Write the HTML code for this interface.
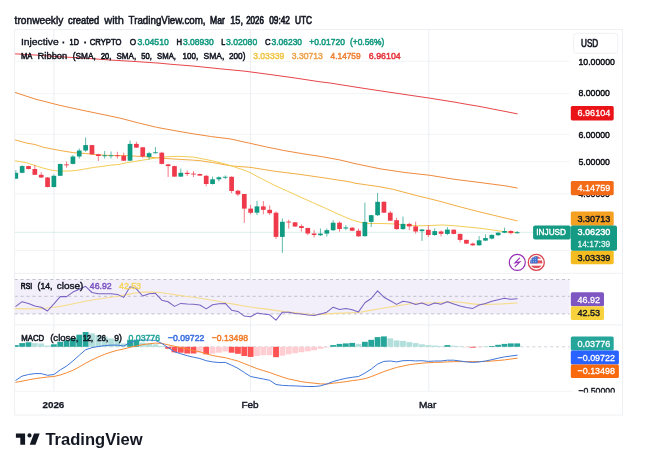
<!DOCTYPE html>
<html lang="en"><head><meta charset="utf-8"><title>INJUSD chart</title>
<style>html,body{margin:0;padding:0;background:#fff;overflow:hidden}svg{display:block}text{font-family:'Liberation Sans', sans-serif;}</style></head><body>
<svg width="656" height="459" viewBox="0 0 656 459">
<rect x="0" y="0" width="656" height="459" fill="#ffffff"/>
<g stroke="#f2f4f7" stroke-width="1">
<line x1="14.6" y1="61.3" x2="569.6" y2="61.3"/>
<line x1="14.6" y1="93.6" x2="569.6" y2="93.6"/>
<line x1="14.6" y1="134.3" x2="569.6" y2="134.3"/>
<line x1="14.6" y1="161.7" x2="569.6" y2="161.7"/>
<line x1="14.6" y1="193.8" x2="569.6" y2="193.8"/>
<line x1="14.6" y1="250.5" x2="569.6" y2="250.5"/>
<line x1="53.9" y1="29.5" x2="53.9" y2="391.3" stroke="#eceef2"/>
<line x1="250.6" y1="29.5" x2="250.6" y2="391.3" stroke="#eceef2"/>
<line x1="428.8" y1="29.5" x2="428.8" y2="391.3" stroke="#eceef2"/>
<line x1="14.6" y1="305.6" x2="569.6" y2="305.6"/>
</g>
<rect x="14.6" y="279.5" width="555.0" height="34.4" fill="#f2effa"/>
<g stroke="#bfc1cc" stroke-width="1" stroke-dasharray="3.1,2.85">
<line x1="14.6" y1="279.5" x2="569.6" y2="279.5"/>
<line x1="14.6" y1="296.3" x2="569.6" y2="296.3"/>
<line x1="14.6" y1="313.9" x2="569.6" y2="313.9"/>
</g>
<polyline points="14.2,308.6 26.8,308.9 40.2,308.6 46.9,308.0 53.6,307.2 60.3,306.4 68.7,304.7 77.0,303.0 85.5,301.3 93.8,299.7 102.2,298.5 110.6,297.2 118.4,296.3 126.8,294.6 135.2,293.0 143.5,292.1 152.0,292.1 160.3,292.5 168.7,293.8 177.0,295.1 185.5,296.3 193.8,297.2 202.2,298.5 210.6,300.0 218.4,301.3 226.8,303.0 235.2,304.4 243.5,306.0 252.0,307.2 260.3,308.4 268.7,309.4 277.0,310.6 285.5,311.7 293.8,312.6 302.2,313.6 310.6,314.5 318.4,314.8 326.8,313.9 335.2,313.4 343.5,313.1 352.0,312.7 360.3,312.2 368.7,310.6 377.0,309.2 385.5,307.7 393.8,306.4 402.2,305.0 410.6,303.8 418.4,303.3 426.8,303.0 435.2,302.7 443.5,302.2 452.0,301.7 460.3,302.2 468.7,303.4 477.0,304.4 485.5,304.4 493.8,304.2 502.2,303.9 510.6,303.4 517.2,303.0" fill="none" stroke="#f6dc8c" stroke-width="1.1" stroke-linejoin="round" stroke-linecap="round" />
<polyline points="15.8,306.4 22.1,301.7 28.5,303.4 34.8,306.0 41.2,307.2 47.5,311.0 53.9,303.9 60.2,296.6 66.6,296.6 72.9,292.1 79.3,289.3 85.6,286.3 92.0,292.5 98.3,293.8 104.7,293.8 111.0,293.8 117.4,294.4 123.7,297.4 130.0,286.8 136.4,288.8 142.7,296.0 149.1,293.8 155.4,293.3 161.8,300.2 168.1,301.8 174.5,306.4 180.8,303.4 187.2,303.9 193.5,304.2 199.9,305.0 206.2,308.9 212.6,304.8 218.9,303.7 225.3,303.4 231.6,310.2 237.9,311.4 244.3,316.1 250.6,316.8 257.0,313.1 263.3,313.9 269.7,314.8 276.0,320.1 282.4,312.2 288.7,312.2 295.1,313.4 301.4,313.9 307.8,315.1 314.1,315.6 320.5,313.9 326.8,312.2 333.2,307.2 339.5,309.4 345.8,308.6 352.2,309.7 358.5,311.9 364.9,302.7 371.2,298.5 377.6,290.9 383.9,297.2 390.3,300.8 396.6,304.4 403.0,301.3 409.3,302.2 415.7,304.4 422.0,303.0 428.4,305.5 434.7,303.0 441.0,304.2 447.4,301.7 453.7,303.9 460.1,306.0 466.4,307.5 472.8,308.4 479.1,305.0 485.5,303.4 491.8,301.3 498.2,299.7 504.5,298.3 510.9,299.3 517.2,298.8" fill="none" stroke="#7a63c2" stroke-width="1.05" stroke-linejoin="round" stroke-linecap="round" />
<line x1="14.6" y1="346.8" x2="569.6" y2="346.8" stroke="#d0d3da" stroke-width="1" stroke-dasharray="3.1,2.85"/>
<rect x="14.60" y="345.1" width="4.10" height="1.7" fill="#26a69a"/>
<rect x="19.25" y="343.1" width="5.80" height="3.7" fill="#26a69a"/>
<rect x="25.59" y="342.3" width="5.80" height="4.5" fill="#26a69a"/>
<rect x="31.94" y="343.1" width="5.80" height="3.7" fill="#b2dfdb"/>
<rect x="38.29" y="343.4" width="5.80" height="3.4" fill="#b2dfdb"/>
<rect x="44.64" y="345.5" width="5.80" height="1.3" fill="#b2dfdb"/>
<rect x="50.98" y="344.3" width="5.80" height="2.5" fill="#26a69a"/>
<rect x="57.33" y="341.8" width="5.80" height="5.0" fill="#26a69a"/>
<rect x="63.68" y="340.4" width="5.80" height="6.4" fill="#26a69a"/>
<rect x="70.02" y="338.1" width="5.80" height="8.7" fill="#26a69a"/>
<rect x="76.37" y="334.7" width="5.80" height="12.1" fill="#26a69a"/>
<rect x="82.72" y="332.0" width="5.80" height="14.8" fill="#26a69a"/>
<rect x="89.06" y="333.4" width="5.80" height="13.4" fill="#b2dfdb"/>
<rect x="95.41" y="335.0" width="5.80" height="11.8" fill="#b2dfdb"/>
<rect x="101.76" y="336.7" width="5.80" height="10.1" fill="#b2dfdb"/>
<rect x="108.11" y="338.4" width="5.80" height="8.4" fill="#b2dfdb"/>
<rect x="114.45" y="340.0" width="5.80" height="6.8" fill="#b2dfdb"/>
<rect x="120.80" y="343.5" width="5.80" height="3.3" fill="#b2dfdb"/>
<rect x="127.15" y="339.8" width="5.80" height="7.0" fill="#26a69a"/>
<rect x="133.49" y="339.8" width="5.80" height="7.0" fill="#26a69a"/>
<rect x="139.84" y="342.6" width="5.80" height="4.2" fill="#b2dfdb"/>
<rect x="146.19" y="343.4" width="5.80" height="3.4" fill="#b2dfdb"/>
<rect x="152.53" y="344.3" width="5.80" height="2.5" fill="#b2dfdb"/>
<rect x="158.88" y="345.9" width="5.80" height="0.9" fill="#b2dfdb"/>
<rect x="165.23" y="346.8" width="5.80" height="2.0" fill="#ff5252"/>
<rect x="171.58" y="346.8" width="5.80" height="5.5" fill="#ff5252"/>
<rect x="177.92" y="346.8" width="5.80" height="5.9" fill="#ff5252"/>
<rect x="184.27" y="346.8" width="5.80" height="6.7" fill="#ff5252"/>
<rect x="190.62" y="346.8" width="5.80" height="6.7" fill="#ff5252"/>
<rect x="196.96" y="346.8" width="5.80" height="5.9" fill="#ffcdd2"/>
<rect x="203.31" y="346.8" width="5.80" height="7.5" fill="#ff5252"/>
<rect x="209.66" y="346.8" width="5.80" height="6.8" fill="#ffcdd2"/>
<rect x="216.00" y="346.8" width="5.80" height="5.9" fill="#ffcdd2"/>
<rect x="222.35" y="346.8" width="5.80" height="4.7" fill="#ffcdd2"/>
<rect x="228.70" y="346.8" width="5.80" height="5.9" fill="#ff5252"/>
<rect x="235.05" y="346.8" width="5.80" height="7.0" fill="#ff5252"/>
<rect x="241.39" y="346.8" width="5.80" height="9.2" fill="#ff5252"/>
<rect x="247.74" y="346.8" width="5.80" height="10.1" fill="#ff5252"/>
<rect x="254.09" y="346.8" width="5.80" height="9.2" fill="#ffcdd2"/>
<rect x="260.43" y="346.8" width="5.80" height="8.4" fill="#ffcdd2"/>
<rect x="266.78" y="346.8" width="5.80" height="8.4" fill="#ffcdd2"/>
<rect x="273.13" y="346.8" width="5.80" height="10.4" fill="#ff5252"/>
<rect x="279.47" y="346.8" width="5.80" height="8.9" fill="#ffcdd2"/>
<rect x="285.82" y="346.8" width="5.80" height="7.5" fill="#ffcdd2"/>
<rect x="292.17" y="346.8" width="5.80" height="6.4" fill="#ffcdd2"/>
<rect x="298.52" y="346.8" width="5.80" height="5.4" fill="#ffcdd2"/>
<rect x="304.86" y="346.8" width="5.80" height="4.5" fill="#ffcdd2"/>
<rect x="311.21" y="346.8" width="5.80" height="3.5" fill="#ffcdd2"/>
<rect x="317.56" y="346.8" width="5.80" height="2.0" fill="#ffcdd2"/>
<rect x="323.90" y="346.8" width="5.80" height="0.6" fill="#ffcdd2"/>
<rect x="330.25" y="345.1" width="5.80" height="1.7" fill="#26a69a"/>
<rect x="336.60" y="343.9" width="5.80" height="2.9" fill="#26a69a"/>
<rect x="342.94" y="343.4" width="5.80" height="3.4" fill="#26a69a"/>
<rect x="349.29" y="342.9" width="5.80" height="3.9" fill="#26a69a"/>
<rect x="355.64" y="343.8" width="5.80" height="3.0" fill="#b2dfdb"/>
<rect x="361.99" y="341.8" width="5.80" height="5.0" fill="#26a69a"/>
<rect x="368.33" y="339.8" width="5.80" height="7.0" fill="#26a69a"/>
<rect x="374.68" y="337.1" width="5.80" height="9.7" fill="#26a69a"/>
<rect x="381.03" y="336.4" width="5.80" height="10.4" fill="#26a69a"/>
<rect x="387.37" y="338.4" width="5.80" height="8.4" fill="#b2dfdb"/>
<rect x="393.72" y="340.4" width="5.80" height="6.4" fill="#b2dfdb"/>
<rect x="400.07" y="340.9" width="5.80" height="5.9" fill="#b2dfdb"/>
<rect x="406.41" y="342.1" width="5.80" height="4.7" fill="#b2dfdb"/>
<rect x="412.76" y="343.1" width="5.80" height="3.7" fill="#b2dfdb"/>
<rect x="419.11" y="344.3" width="5.80" height="2.5" fill="#b2dfdb"/>
<rect x="425.46" y="345.1" width="5.80" height="1.7" fill="#b2dfdb"/>
<rect x="431.80" y="345.5" width="5.80" height="1.3" fill="#b2dfdb"/>
<rect x="438.15" y="346.1" width="5.80" height="0.7" fill="#b2dfdb"/>
<rect x="444.50" y="345.1" width="5.80" height="1.7" fill="#26a69a"/>
<rect x="450.84" y="345.7" width="5.80" height="1.1" fill="#b2dfdb"/>
<rect x="457.19" y="346.3" width="5.80" height="0.6" fill="#b2dfdb"/>
<rect x="463.54" y="346.8" width="5.80" height="0.6" fill="#ffcdd2"/>
<rect x="469.88" y="346.8" width="5.80" height="0.9" fill="#ff5252"/>
<rect x="476.23" y="346.8" width="5.80" height="0.6" fill="#ffcdd2"/>
<rect x="482.58" y="346.4" width="5.80" height="0.6" fill="#b2dfdb"/>
<rect x="488.93" y="346.0" width="5.80" height="0.8" fill="#26a69a"/>
<rect x="495.27" y="344.8" width="5.80" height="2.0" fill="#26a69a"/>
<rect x="501.62" y="343.9" width="5.80" height="2.9" fill="#26a69a"/>
<rect x="507.97" y="343.4" width="5.80" height="3.4" fill="#26a69a"/>
<rect x="514.31" y="343.4" width="5.80" height="3.4" fill="#26a69a"/>
<polyline points="15.8,382.3 22.1,381.2 28.5,379.8 34.8,378.7 41.2,377.8 47.5,377.0 53.9,376.5 60.2,375.0 66.6,372.8 72.9,370.3 79.3,366.9 85.6,363.2 92.0,359.9 98.3,356.9 104.7,354.3 111.0,352.1 117.4,350.3 123.7,349.0 130.0,347.3 136.4,346.0 142.7,344.6 149.1,343.8 155.4,343.1 161.8,343.4 168.1,344.8 174.5,346.3 180.8,347.6 187.2,349.0 193.5,350.5 199.9,351.8 206.2,353.8 212.6,355.5 218.9,356.7 225.3,357.7 231.6,359.4 237.9,361.0 244.3,363.6 250.6,366.1 257.0,368.6 263.3,370.6 269.7,372.5 276.0,374.8 282.4,377.0 288.7,379.0 295.1,380.3 301.4,381.7 307.8,382.5 314.1,383.2 320.5,383.9 326.8,384.0 333.2,383.2 339.5,382.5 345.8,381.7 352.2,380.7 358.5,379.8 364.9,378.7 371.2,376.6 377.6,374.1 383.9,371.6 390.3,369.4 396.6,367.4 403.0,366.1 409.3,364.7 415.7,363.9 422.0,363.2 428.4,362.7 434.7,362.4 441.0,362.2 447.4,361.9 453.7,361.6 460.1,361.6 466.4,361.6 472.8,361.6 479.1,361.6 485.5,361.4 491.8,361.0 498.2,360.5 504.5,359.9 510.9,359.0 517.2,358.2" fill="none" stroke="#f58a34" stroke-width="1.0" stroke-linejoin="round" stroke-linecap="round" />
<polyline points="15.8,380.3 22.1,376.1 28.5,374.5 34.8,373.6 41.2,373.6 47.5,375.3 53.9,374.5 60.2,369.9 66.6,366.1 72.9,361.0 79.3,355.2 85.6,349.8 92.0,347.6 98.3,346.5 104.7,345.6 111.0,345.1 117.4,345.1 123.7,346.0 130.0,342.6 136.4,340.4 142.7,340.1 149.1,340.1 155.4,340.4 161.8,343.4 168.1,347.6 174.5,351.8 180.8,353.8 187.2,355.7 193.5,357.2 199.9,358.5 206.2,360.7 212.6,361.9 218.9,362.5 225.3,362.4 231.6,365.2 237.9,368.3 244.3,372.5 250.6,376.5 257.0,377.8 263.3,379.0 269.7,380.3 276.0,384.5 282.4,385.4 288.7,385.7 295.1,385.9 301.4,386.2 307.8,386.5 314.1,386.5 320.5,385.9 326.8,384.0 333.2,381.5 339.5,379.8 345.8,378.3 352.2,377.3 358.5,376.5 364.9,373.1 371.2,369.1 377.6,364.1 383.9,361.4 390.3,361.0 396.6,361.9 403.0,360.7 409.3,360.5 415.7,360.9 422.0,360.7 428.4,361.4 434.7,361.0 441.0,361.0 447.4,360.2 453.7,360.2 460.1,361.0 466.4,361.9 472.8,362.4 479.1,361.9 485.5,361.0 491.8,359.7 498.2,358.2 504.5,356.9 510.9,356.0 517.2,355.2" fill="none" stroke="#3f77d9" stroke-width="1.0" stroke-linejoin="round" stroke-linecap="round" />
<line x1="14.6" y1="232.3" x2="569.6" y2="232.3" stroke="#a3d8cd" stroke-width="0.8" stroke-dasharray="1,1"/>
<polyline points="14.6,53.8 35.0,55.0 60.0,56.8 85.0,58.2 110.0,60.0 135.0,61.5 160.0,63.2 170.0,64.2 195.0,66.2 220.0,68.8 245.0,71.2 270.0,74.5 295.0,78.0 320.0,81.8 330.0,83.0 355.0,87.0 380.0,90.8 405.0,94.5 430.0,98.2 440.0,99.8 455.0,102.2 465.0,104.0 480.0,106.5 490.0,108.5 517.2,113.8" fill="none" stroke="#e8454a" stroke-width="1.0" stroke-linejoin="round" stroke-linecap="round" />
<polyline points="14.6,92.3 35.0,99.0 60.0,105.4 85.0,110.8 110.0,116.0 120.0,118.1 138.3,122.9 156.6,127.3 174.9,130.7 193.2,133.8 211.5,136.6 230.0,138.9 248.3,142.9 266.6,147.0 284.9,150.7 303.2,153.8 321.5,156.6 339.7,159.9 350.0,162.4 355.0,163.6 380.0,168.8 405.0,172.5 430.0,175.3 455.0,179.4 480.0,182.5 505.0,185.8 517.2,188.0" fill="none" stroke="#f08a3e" stroke-width="1.0" stroke-linejoin="round" stroke-linecap="round" />
<polyline points="14.6,139.8 26.8,143.1 35.0,144.5 43.5,147.3 60.0,150.5 73.7,152.7 85.5,153.5 97.2,154.8 110.6,155.5 126.8,155.7 143.5,156.6 160.3,158.1 177.0,159.2 193.8,160.2 200.0,160.7 212.5,162.5 225.0,164.8 232.0,166.0 250.0,167.3 275.0,171.3 300.0,174.4 325.0,178.0 350.0,181.9 355.0,183.2 367.5,185.0 380.0,186.8 392.5,189.2 405.0,192.5 417.5,195.8 430.0,198.8 442.5,202.0 455.0,205.5 467.5,208.8 480.0,212.0 492.5,215.0 505.0,218.0 517.2,220.8" fill="none" stroke="#f3ae45" stroke-width="1.0" stroke-linejoin="round" stroke-linecap="round" />
<polyline points="14.6,160.7 26.8,162.8 35.2,165.6 43.5,168.2 52.0,170.3 60.3,171.1 68.7,171.1 77.0,170.3 85.5,168.9 93.8,167.4 102.2,166.4 110.6,165.2 119.0,164.4 126.8,162.7 143.5,160.0 152.0,158.6 160.3,157.3 168.7,156.6 177.0,156.4 185.5,156.6 193.8,157.2 202.2,158.8 212.5,160.8 225.0,164.0 232.0,166.0 237.5,168.0 243.8,170.0 250.0,172.6 262.5,179.2 275.0,185.5 287.5,191.2 300.0,196.9 312.5,202.5 325.0,208.0 337.5,213.8 350.0,219.2 355.0,220.8 362.5,222.8 370.0,223.5 380.0,223.5 392.5,223.8 405.0,225.0 417.5,225.8 430.0,225.5 442.5,225.0 455.0,225.8 467.5,227.0 480.0,228.2 492.5,230.0 505.0,231.8 517.2,232.5" fill="none" stroke="#f3cd58" stroke-width="1.0" stroke-linejoin="round" stroke-linecap="round" />
<g>
<line x1="15.80" y1="170.0" x2="15.80" y2="179.0" stroke="#0f9a82" stroke-width="0.9" stroke-opacity="0.75"/>
<rect x="14.60" y="172.8" width="3.55" height="5.9" fill="#0f9a82"/>
<line x1="22.15" y1="165.2" x2="22.15" y2="173.3" stroke="#0f9a82" stroke-width="0.9" stroke-opacity="0.75"/>
<rect x="19.80" y="166.1" width="4.70" height="6.7" fill="#0f9a82"/>
<line x1="28.49" y1="165.7" x2="28.49" y2="169.4" stroke="#ee3a4b" stroke-width="0.9" stroke-opacity="0.75"/>
<rect x="26.14" y="166.1" width="4.70" height="2.9" fill="#ee3a4b"/>
<line x1="34.84" y1="164.9" x2="34.84" y2="175.0" stroke="#ee3a4b" stroke-width="0.9" stroke-opacity="0.75"/>
<rect x="32.49" y="169.0" width="4.70" height="5.8" fill="#ee3a4b"/>
<line x1="41.19" y1="172.3" x2="41.19" y2="177.8" stroke="#ee3a4b" stroke-width="0.9" stroke-opacity="0.75"/>
<rect x="38.84" y="174.8" width="4.70" height="2.7" fill="#ee3a4b"/>
<line x1="47.54" y1="177.0" x2="47.54" y2="187.4" stroke="#ee3a4b" stroke-width="0.9" stroke-opacity="0.75"/>
<rect x="45.19" y="177.5" width="4.70" height="9.5" fill="#ee3a4b"/>
<line x1="53.88" y1="174.5" x2="53.88" y2="187.4" stroke="#0f9a82" stroke-width="0.9" stroke-opacity="0.75"/>
<rect x="51.53" y="175.8" width="4.70" height="11.2" fill="#0f9a82"/>
<line x1="60.23" y1="163.6" x2="60.23" y2="176.1" stroke="#0f9a82" stroke-width="0.9" stroke-opacity="0.75"/>
<rect x="57.88" y="164.0" width="4.70" height="11.8" fill="#0f9a82"/>
<line x1="66.58" y1="161.5" x2="66.58" y2="167.8" stroke="#ee3a4b" stroke-width="0.9" stroke-opacity="0.75"/>
<rect x="64.23" y="164.4" width="4.70" height="0.9" fill="#ee3a4b"/>
<line x1="72.92" y1="155.2" x2="72.92" y2="164.4" stroke="#0f9a82" stroke-width="0.9" stroke-opacity="0.75"/>
<rect x="70.57" y="156.5" width="4.70" height="7.4" fill="#0f9a82"/>
<line x1="79.27" y1="148.5" x2="79.27" y2="158.5" stroke="#0f9a82" stroke-width="0.9" stroke-opacity="0.75"/>
<rect x="76.92" y="150.5" width="4.70" height="6.0" fill="#0f9a82"/>
<line x1="85.62" y1="137.6" x2="85.62" y2="151.8" stroke="#0f9a82" stroke-width="0.9" stroke-opacity="0.75"/>
<rect x="83.27" y="145.1" width="4.70" height="5.4" fill="#0f9a82"/>
<line x1="91.96" y1="145.1" x2="91.96" y2="154.8" stroke="#ee3a4b" stroke-width="0.9" stroke-opacity="0.75"/>
<rect x="89.61" y="145.1" width="4.70" height="9.2" fill="#ee3a4b"/>
<line x1="98.31" y1="153.8" x2="98.31" y2="161.0" stroke="#ee3a4b" stroke-width="0.9" stroke-opacity="0.75"/>
<rect x="95.96" y="154.3" width="4.70" height="1.7" fill="#ee3a4b"/>
<line x1="104.66" y1="151.0" x2="104.66" y2="158.5" stroke="#0f9a82" stroke-width="0.9" stroke-opacity="0.75"/>
<rect x="102.31" y="155.3" width="4.70" height="0.9" fill="#0f9a82"/>
<line x1="111.01" y1="151.5" x2="111.01" y2="158.5" stroke="#0f9a82" stroke-width="0.9" stroke-opacity="0.75"/>
<rect x="108.66" y="155.3" width="4.70" height="0.9" fill="#0f9a82"/>
<line x1="117.35" y1="151.8" x2="117.35" y2="158.5" stroke="#ee3a4b" stroke-width="0.9" stroke-opacity="0.75"/>
<rect x="115.00" y="155.3" width="4.70" height="0.9" fill="#ee3a4b"/>
<line x1="123.70" y1="152.7" x2="123.70" y2="161.0" stroke="#ee3a4b" stroke-width="0.9" stroke-opacity="0.75"/>
<rect x="121.35" y="155.7" width="4.70" height="5.0" fill="#ee3a4b"/>
<line x1="130.05" y1="140.6" x2="130.05" y2="161.0" stroke="#0f9a82" stroke-width="0.9" stroke-opacity="0.75"/>
<rect x="127.70" y="143.9" width="4.70" height="16.8" fill="#0f9a82"/>
<line x1="136.39" y1="141.8" x2="136.39" y2="148.0" stroke="#ee3a4b" stroke-width="0.9" stroke-opacity="0.75"/>
<rect x="134.04" y="143.9" width="4.70" height="3.7" fill="#ee3a4b"/>
<line x1="142.74" y1="146.8" x2="142.74" y2="157.7" stroke="#ee3a4b" stroke-width="0.9" stroke-opacity="0.75"/>
<rect x="140.39" y="147.3" width="4.70" height="9.2" fill="#ee3a4b"/>
<line x1="149.09" y1="151.8" x2="149.09" y2="159.7" stroke="#0f9a82" stroke-width="0.9" stroke-opacity="0.75"/>
<rect x="146.74" y="153.2" width="4.70" height="3.7" fill="#0f9a82"/>
<line x1="155.43" y1="147.1" x2="155.43" y2="153.5" stroke="#0f9a82" stroke-width="0.9" stroke-opacity="0.75"/>
<rect x="153.08" y="152.3" width="4.70" height="0.9" fill="#0f9a82"/>
<line x1="161.78" y1="151.8" x2="161.78" y2="164.4" stroke="#ee3a4b" stroke-width="0.9" stroke-opacity="0.75"/>
<rect x="159.43" y="152.7" width="4.70" height="11.2" fill="#ee3a4b"/>
<line x1="168.13" y1="163.9" x2="168.13" y2="177.0" stroke="#ee3a4b" stroke-width="0.9" stroke-opacity="0.75"/>
<rect x="165.78" y="164.4" width="4.70" height="1.7" fill="#ee3a4b"/>
<line x1="174.48" y1="165.7" x2="174.48" y2="177.0" stroke="#ee3a4b" stroke-width="0.9" stroke-opacity="0.75"/>
<rect x="172.13" y="166.1" width="4.70" height="10.5" fill="#ee3a4b"/>
<line x1="180.82" y1="168.6" x2="180.82" y2="177.0" stroke="#0f9a82" stroke-width="0.9" stroke-opacity="0.75"/>
<rect x="178.47" y="172.8" width="4.70" height="3.8" fill="#0f9a82"/>
<line x1="187.17" y1="170.3" x2="187.17" y2="176.1" stroke="#ee3a4b" stroke-width="0.9" stroke-opacity="0.75"/>
<rect x="184.82" y="172.8" width="4.70" height="1.2" fill="#ee3a4b"/>
<line x1="193.52" y1="171.1" x2="193.52" y2="177.0" stroke="#ee3a4b" stroke-width="0.9" stroke-opacity="0.75"/>
<rect x="191.17" y="173.6" width="4.70" height="0.9" fill="#ee3a4b"/>
<line x1="199.86" y1="173.6" x2="199.86" y2="175.8" stroke="#ee3a4b" stroke-width="0.9" stroke-opacity="0.75"/>
<rect x="197.51" y="174.0" width="4.70" height="1.6" fill="#ee3a4b"/>
<line x1="206.21" y1="175.0" x2="206.21" y2="186.2" stroke="#ee3a4b" stroke-width="0.9" stroke-opacity="0.75"/>
<rect x="203.86" y="175.8" width="4.70" height="8.2" fill="#ee3a4b"/>
<line x1="212.56" y1="176.6" x2="212.56" y2="184.5" stroke="#0f9a82" stroke-width="0.9" stroke-opacity="0.75"/>
<rect x="210.21" y="179.3" width="4.70" height="4.7" fill="#0f9a82"/>
<line x1="218.90" y1="176.4" x2="218.90" y2="181.5" stroke="#0f9a82" stroke-width="0.9" stroke-opacity="0.75"/>
<rect x="216.55" y="177.3" width="4.70" height="2.0" fill="#0f9a82"/>
<line x1="225.25" y1="175.4" x2="225.25" y2="179.3" stroke="#0f9a82" stroke-width="0.9" stroke-opacity="0.75"/>
<rect x="222.90" y="176.8" width="4.70" height="0.9" fill="#0f9a82"/>
<line x1="231.60" y1="176.3" x2="231.60" y2="193.2" stroke="#ee3a4b" stroke-width="0.9" stroke-opacity="0.75"/>
<rect x="229.25" y="176.8" width="4.70" height="14.2" fill="#ee3a4b"/>
<line x1="237.95" y1="189.8" x2="237.95" y2="196.0" stroke="#ee3a4b" stroke-width="0.9" stroke-opacity="0.75"/>
<rect x="235.60" y="190.7" width="4.70" height="3.7" fill="#ee3a4b"/>
<line x1="244.29" y1="194.0" x2="244.29" y2="222.9" stroke="#ee3a4b" stroke-width="0.9" stroke-opacity="0.75"/>
<rect x="241.94" y="194.0" width="4.70" height="14.6" fill="#ee3a4b"/>
<line x1="250.64" y1="204.9" x2="250.64" y2="214.5" stroke="#ee3a4b" stroke-width="0.9" stroke-opacity="0.75"/>
<rect x="248.29" y="208.6" width="4.70" height="4.2" fill="#ee3a4b"/>
<line x1="256.99" y1="200.8" x2="256.99" y2="215.0" stroke="#0f9a82" stroke-width="0.9" stroke-opacity="0.75"/>
<rect x="254.64" y="206.4" width="4.70" height="6.3" fill="#0f9a82"/>
<line x1="263.33" y1="201.0" x2="263.33" y2="214.3" stroke="#ee3a4b" stroke-width="0.9" stroke-opacity="0.75"/>
<rect x="260.98" y="206.4" width="4.70" height="3.4" fill="#ee3a4b"/>
<line x1="269.68" y1="205.4" x2="269.68" y2="215.0" stroke="#ee3a4b" stroke-width="0.9" stroke-opacity="0.75"/>
<rect x="267.33" y="209.8" width="4.70" height="3.4" fill="#ee3a4b"/>
<line x1="276.03" y1="211.4" x2="276.03" y2="238.9" stroke="#ee3a4b" stroke-width="0.9" stroke-opacity="0.75"/>
<rect x="273.68" y="212.7" width="4.70" height="24.2" fill="#ee3a4b"/>
<line x1="282.37" y1="218.5" x2="282.37" y2="252.8" stroke="#0f9a82" stroke-width="0.9" stroke-opacity="0.75"/>
<rect x="280.02" y="221.8" width="4.70" height="15.1" fill="#0f9a82"/>
<line x1="288.72" y1="219.7" x2="288.72" y2="228.6" stroke="#ee3a4b" stroke-width="0.9" stroke-opacity="0.75"/>
<rect x="286.37" y="221.6" width="4.70" height="0.9" fill="#ee3a4b"/>
<line x1="295.07" y1="222.0" x2="295.07" y2="227.0" stroke="#ee3a4b" stroke-width="0.9" stroke-opacity="0.75"/>
<rect x="292.72" y="222.3" width="4.70" height="4.2" fill="#ee3a4b"/>
<line x1="301.42" y1="224.4" x2="301.42" y2="231.5" stroke="#ee3a4b" stroke-width="0.9" stroke-opacity="0.75"/>
<rect x="299.06" y="226.1" width="4.70" height="1.9" fill="#ee3a4b"/>
<line x1="307.76" y1="227.7" x2="307.76" y2="235.0" stroke="#ee3a4b" stroke-width="0.9" stroke-opacity="0.75"/>
<rect x="305.41" y="228.0" width="4.70" height="5.5" fill="#ee3a4b"/>
<line x1="314.11" y1="230.0" x2="314.11" y2="237.5" stroke="#ee3a4b" stroke-width="0.9" stroke-opacity="0.75"/>
<rect x="311.76" y="233.5" width="4.70" height="1.5" fill="#ee3a4b"/>
<line x1="320.46" y1="228.5" x2="320.46" y2="236.1" stroke="#0f9a82" stroke-width="0.9" stroke-opacity="0.75"/>
<rect x="318.11" y="233.6" width="4.70" height="1.6" fill="#0f9a82"/>
<line x1="326.80" y1="228.5" x2="326.80" y2="236.6" stroke="#0f9a82" stroke-width="0.9" stroke-opacity="0.75"/>
<rect x="324.45" y="230.2" width="4.70" height="3.4" fill="#0f9a82"/>
<line x1="333.15" y1="220.2" x2="333.15" y2="231.0" stroke="#0f9a82" stroke-width="0.9" stroke-opacity="0.75"/>
<rect x="330.80" y="222.7" width="4.70" height="7.5" fill="#0f9a82"/>
<line x1="339.50" y1="221.3" x2="339.50" y2="231.6" stroke="#ee3a4b" stroke-width="0.9" stroke-opacity="0.75"/>
<rect x="337.15" y="222.7" width="4.70" height="6.3" fill="#ee3a4b"/>
<line x1="345.84" y1="225.2" x2="345.84" y2="230.2" stroke="#0f9a82" stroke-width="0.9" stroke-opacity="0.75"/>
<rect x="343.49" y="227.4" width="4.70" height="1.1" fill="#0f9a82"/>
<line x1="352.19" y1="227.0" x2="352.19" y2="231.2" stroke="#ee3a4b" stroke-width="0.9" stroke-opacity="0.75"/>
<rect x="349.84" y="227.7" width="4.70" height="3.0" fill="#ee3a4b"/>
<line x1="358.54" y1="228.5" x2="358.54" y2="237.0" stroke="#ee3a4b" stroke-width="0.9" stroke-opacity="0.75"/>
<rect x="356.19" y="230.7" width="4.70" height="5.6" fill="#ee3a4b"/>
<line x1="364.89" y1="202.6" x2="364.89" y2="236.5" stroke="#0f9a82" stroke-width="0.9" stroke-opacity="0.75"/>
<rect x="362.54" y="221.9" width="4.70" height="14.3" fill="#0f9a82"/>
<line x1="371.23" y1="214.9" x2="371.23" y2="227.0" stroke="#0f9a82" stroke-width="0.9" stroke-opacity="0.75"/>
<rect x="368.88" y="215.2" width="4.70" height="6.7" fill="#0f9a82"/>
<line x1="377.58" y1="193.0" x2="377.58" y2="216.0" stroke="#0f9a82" stroke-width="0.9" stroke-opacity="0.75"/>
<rect x="375.23" y="201.8" width="4.70" height="13.4" fill="#0f9a82"/>
<line x1="383.93" y1="201.4" x2="383.93" y2="213.0" stroke="#ee3a4b" stroke-width="0.9" stroke-opacity="0.75"/>
<rect x="381.58" y="201.8" width="4.70" height="10.9" fill="#ee3a4b"/>
<line x1="390.27" y1="211.0" x2="390.27" y2="221.0" stroke="#ee3a4b" stroke-width="0.9" stroke-opacity="0.75"/>
<rect x="387.92" y="212.7" width="4.70" height="8.0" fill="#ee3a4b"/>
<line x1="396.62" y1="217.7" x2="396.62" y2="229.8" stroke="#ee3a4b" stroke-width="0.9" stroke-opacity="0.75"/>
<rect x="394.27" y="220.2" width="4.70" height="8.9" fill="#ee3a4b"/>
<line x1="402.97" y1="216.6" x2="402.97" y2="229.8" stroke="#0f9a82" stroke-width="0.9" stroke-opacity="0.75"/>
<rect x="400.62" y="223.9" width="4.70" height="5.2" fill="#0f9a82"/>
<line x1="409.31" y1="222.8" x2="409.31" y2="230.0" stroke="#ee3a4b" stroke-width="0.9" stroke-opacity="0.75"/>
<rect x="406.96" y="223.9" width="4.70" height="2.5" fill="#ee3a4b"/>
<line x1="415.66" y1="221.6" x2="415.66" y2="233.7" stroke="#ee3a4b" stroke-width="0.9" stroke-opacity="0.75"/>
<rect x="413.31" y="226.4" width="4.70" height="5.1" fill="#ee3a4b"/>
<line x1="422.01" y1="229.1" x2="422.01" y2="240.9" stroke="#0f9a82" stroke-width="0.9" stroke-opacity="0.75"/>
<rect x="419.66" y="229.5" width="4.70" height="1.6" fill="#0f9a82"/>
<line x1="428.36" y1="225.3" x2="428.36" y2="237.0" stroke="#ee3a4b" stroke-width="0.9" stroke-opacity="0.75"/>
<rect x="426.00" y="229.8" width="4.70" height="5.2" fill="#ee3a4b"/>
<line x1="434.70" y1="228.3" x2="434.70" y2="235.8" stroke="#0f9a82" stroke-width="0.9" stroke-opacity="0.75"/>
<rect x="432.35" y="231.1" width="4.70" height="3.9" fill="#0f9a82"/>
<line x1="441.05" y1="230.3" x2="441.05" y2="236.4" stroke="#ee3a4b" stroke-width="0.9" stroke-opacity="0.75"/>
<rect x="438.70" y="231.5" width="4.70" height="2.3" fill="#ee3a4b"/>
<line x1="447.40" y1="227.1" x2="447.40" y2="235.1" stroke="#0f9a82" stroke-width="0.9" stroke-opacity="0.75"/>
<rect x="445.05" y="229.6" width="4.70" height="4.3" fill="#0f9a82"/>
<line x1="453.74" y1="229.4" x2="453.74" y2="234.4" stroke="#ee3a4b" stroke-width="0.9" stroke-opacity="0.75"/>
<rect x="451.39" y="229.7" width="4.70" height="4.2" fill="#ee3a4b"/>
<line x1="460.09" y1="233.6" x2="460.09" y2="242.3" stroke="#ee3a4b" stroke-width="0.9" stroke-opacity="0.75"/>
<rect x="457.74" y="233.9" width="4.70" height="6.0" fill="#ee3a4b"/>
<line x1="466.44" y1="239.6" x2="466.44" y2="244.1" stroke="#ee3a4b" stroke-width="0.9" stroke-opacity="0.75"/>
<rect x="464.09" y="239.9" width="4.70" height="3.7" fill="#ee3a4b"/>
<line x1="472.78" y1="242.5" x2="472.78" y2="245.8" stroke="#ee3a4b" stroke-width="0.9" stroke-opacity="0.75"/>
<rect x="470.43" y="243.6" width="4.70" height="1.7" fill="#ee3a4b"/>
<line x1="479.13" y1="236.1" x2="479.13" y2="245.6" stroke="#0f9a82" stroke-width="0.9" stroke-opacity="0.75"/>
<rect x="476.78" y="240.3" width="4.70" height="5.0" fill="#0f9a82"/>
<line x1="485.48" y1="234.4" x2="485.48" y2="241.1" stroke="#0f9a82" stroke-width="0.9" stroke-opacity="0.75"/>
<rect x="483.13" y="238.1" width="4.70" height="2.5" fill="#0f9a82"/>
<line x1="491.83" y1="234.4" x2="491.83" y2="239.4" stroke="#0f9a82" stroke-width="0.9" stroke-opacity="0.75"/>
<rect x="489.48" y="234.9" width="4.70" height="3.7" fill="#0f9a82"/>
<line x1="498.17" y1="232.2" x2="498.17" y2="236.1" stroke="#0f9a82" stroke-width="0.9" stroke-opacity="0.75"/>
<rect x="495.82" y="232.7" width="4.70" height="2.5" fill="#0f9a82"/>
<line x1="504.52" y1="227.7" x2="504.52" y2="233.2" stroke="#0f9a82" stroke-width="0.9" stroke-opacity="0.75"/>
<rect x="502.17" y="231.0" width="4.70" height="1.7" fill="#0f9a82"/>
<line x1="510.87" y1="230.2" x2="510.87" y2="234.4" stroke="#ee3a4b" stroke-width="0.9" stroke-opacity="0.75"/>
<rect x="508.52" y="231.0" width="4.70" height="2.1" fill="#ee3a4b"/>
<line x1="517.21" y1="231.0" x2="517.21" y2="233.9" stroke="#0f9a82" stroke-width="0.9" stroke-opacity="0.75"/>
<rect x="514.86" y="232.2" width="4.70" height="1.0" fill="#0f9a82"/>
</g>
<g stroke="#eef0f3" stroke-width="1" fill="none">
<line x1="14.6" y1="273.3" x2="622.5" y2="273.3"/>
<line x1="14.6" y1="324.9" x2="622.5" y2="324.9"/>
<line x1="14.6" y1="391.3" x2="572" y2="391.3" stroke="#f2f4f7"/>
<rect x="14.6" y="29.5" width="607.9" height="385.5"/>
</g>
<text x="14.6" y="23.8" font-size="10.0" fill="#131722" font-weight="normal" text-anchor="start" textLength="48.7" lengthAdjust="spacingAndGlyphs" stroke="#131722" stroke-width="0.48" >tronweekly</text>
<text x="68.0" y="23.8" font-size="10.0" fill="#131722" font-weight="normal" text-anchor="start" textLength="31.3" lengthAdjust="spacingAndGlyphs" stroke="#131722" stroke-width="0.56" >created</text>
<text x="104.22" y="23.8" font-size="10.0" fill="#131722" font-weight="normal" text-anchor="start" textLength="19.58" lengthAdjust="spacingAndGlyphs" stroke="#131722" stroke-width="0.42" >with</text>
<text x="128.6" y="23.8" font-size="10.0" fill="#131722" font-weight="normal" text-anchor="start" textLength="77.0" lengthAdjust="spacingAndGlyphs" stroke="#131722" stroke-width="0.52" >TradingView.com,</text>
<text x="210.0" y="23.8" font-size="10.0" fill="#131722" font-weight="normal" text-anchor="start" textLength="14.8" lengthAdjust="spacingAndGlyphs" stroke="#131722" stroke-width="0.64" >Mar</text>
<text x="230.2" y="23.8" font-size="10.0" fill="#131722" font-weight="normal" text-anchor="start" textLength="12.8" lengthAdjust="spacingAndGlyphs" stroke="#131722" stroke-width="0.57" >15,</text>
<text x="246.2" y="23.8" font-size="10.0" fill="#131722" font-weight="normal" text-anchor="start" textLength="17.6" lengthAdjust="spacingAndGlyphs" stroke="#131722" stroke-width="0.72" >2026</text>
<text x="269.2" y="23.8" font-size="10.0" fill="#131722" font-weight="normal" text-anchor="start" textLength="20.8" lengthAdjust="spacingAndGlyphs" stroke="#131722" stroke-width="0.67" >09:42</text>
<text x="295.0" y="23.8" font-size="10.0" fill="#131722" font-weight="normal" text-anchor="start" textLength="17.0" lengthAdjust="spacingAndGlyphs" stroke="#131722" stroke-width="0.68" >UTC</text>
<text x="20.9" y="45.2" font-size="9.6" fill="#131722" font-weight="normal" text-anchor="start" textLength="37.9" lengthAdjust="spacingAndGlyphs" stroke="#131722" stroke-width="0.37" >Injective</text>
<text x="63.400000000000006" y="45.2" font-size="9.6" fill="#131722" font-weight="normal" text-anchor="middle" stroke="#131722" stroke-width="0.8" >·</text>
<text x="69.6" y="45.2" font-size="9.6" fill="#131722" font-weight="normal" text-anchor="start" textLength="9.3" lengthAdjust="spacingAndGlyphs" stroke="#131722" stroke-width="0.67" >1D</text>
<text x="85.2" y="45.2" font-size="9.6" fill="#131722" font-weight="normal" text-anchor="middle" stroke="#131722" stroke-width="0.8" >·</text>
<text x="89.8" y="45.2" font-size="9.6" fill="#131722" font-weight="normal" text-anchor="start" textLength="31.7" lengthAdjust="spacingAndGlyphs" stroke="#131722" stroke-width="0.61" >CRYPTO</text>
<text x="129.8" y="45.2" font-size="9.6" fill="#131722" font-weight="normal" text-anchor="start" textLength="6.4" lengthAdjust="spacingAndGlyphs" stroke="#131722" stroke-width="0.55" >O</text>
<text x="137.5" y="45.2" font-size="9.6" fill="#12987f" font-weight="normal" text-anchor="start" textLength="31.3" lengthAdjust="spacingAndGlyphs" stroke="#12987f" stroke-width="0.5" >3.04510</text>
<text x="176.4" y="45.2" font-size="9.6" fill="#131722" font-weight="normal" text-anchor="start" textLength="5.5" lengthAdjust="spacingAndGlyphs" stroke="#131722" stroke-width="0.62" >H</text>
<text x="182.9" y="45.2" font-size="9.6" fill="#12987f" font-weight="normal" text-anchor="start" textLength="30.8" lengthAdjust="spacingAndGlyphs" stroke="#12987f" stroke-width="0.52" >3.08930</text>
<text x="221.2" y="45.2" font-size="9.6" fill="#131722" font-weight="normal" text-anchor="start" textLength="4.0" lengthAdjust="spacingAndGlyphs" stroke="#131722" stroke-width="0.68" >L</text>
<text x="226.0" y="45.2" font-size="9.6" fill="#12987f" font-weight="normal" text-anchor="start" textLength="31.2" lengthAdjust="spacingAndGlyphs" stroke="#12987f" stroke-width="0.51" >3.02080</text>
<text x="265.1" y="45.2" font-size="9.6" fill="#131722" font-weight="normal" text-anchor="start" textLength="5.6" lengthAdjust="spacingAndGlyphs" stroke="#131722" stroke-width="0.6" >C</text>
<text x="271.6" y="45.2" font-size="9.6" fill="#12987f" font-weight="normal" text-anchor="start" textLength="30.4" lengthAdjust="spacingAndGlyphs" stroke="#12987f" stroke-width="0.53" >3.06230</text>
<text x="309.3" y="45.2" font-size="9.6" fill="#12987f" font-weight="normal" text-anchor="start" textLength="35.6" lengthAdjust="spacingAndGlyphs" stroke="#12987f" stroke-width="0.52" >+0.01720</text>
<text x="350.0" y="45.2" font-size="9.6" fill="#12987f" font-weight="normal" text-anchor="start" textLength="34.3" lengthAdjust="spacingAndGlyphs" stroke="#12987f" stroke-width="0.53" >(+0.56%)</text>
<text x="20.9" y="59.2" font-size="9.6" fill="#131722" font-weight="normal" text-anchor="start" textLength="11.4" lengthAdjust="spacingAndGlyphs" stroke="#131722" stroke-width="0.62" >MA</text>
<text x="37.6" y="59.2" font-size="9.6" fill="#131722" font-weight="normal" text-anchor="start" textLength="29.7" lengthAdjust="spacingAndGlyphs" stroke="#131722" stroke-width="0.44" >Ribbon</text>
<text x="72.8" y="59.2" font-size="9.6" fill="#131722" font-weight="normal" text-anchor="start" textLength="23.0" lengthAdjust="spacingAndGlyphs" stroke="#131722" stroke-width="0.54" >(SMA,</text>
<text x="101.0" y="59.2" font-size="9.6" fill="#131722" font-weight="normal" text-anchor="start" textLength="10.2" lengthAdjust="spacingAndGlyphs" stroke="#131722" stroke-width="0.66" >20,</text>
<text x="116.4" y="59.2" font-size="9.6" fill="#131722" font-weight="normal" text-anchor="start" textLength="19.8" lengthAdjust="spacingAndGlyphs" stroke="#131722" stroke-width="0.56" >SMA,</text>
<text x="141.3" y="59.2" font-size="9.6" fill="#131722" font-weight="normal" text-anchor="start" textLength="10.7" lengthAdjust="spacingAndGlyphs" stroke="#131722" stroke-width="0.61" >50,</text>
<text x="157.0" y="59.2" font-size="9.6" fill="#131722" font-weight="normal" text-anchor="start" textLength="19.0" lengthAdjust="spacingAndGlyphs" stroke="#131722" stroke-width="0.6" >SMA,</text>
<text x="182.6" y="59.2" font-size="9.6" fill="#131722" font-weight="normal" text-anchor="start" textLength="15.6" lengthAdjust="spacingAndGlyphs" stroke="#131722" stroke-width="0.57" >100,</text>
<text x="203.6" y="59.2" font-size="9.6" fill="#131722" font-weight="normal" text-anchor="start" textLength="20.8" lengthAdjust="spacingAndGlyphs" stroke="#131722" stroke-width="0.52" >SMA,</text>
<text x="229.0" y="59.2" font-size="9.6" fill="#131722" font-weight="normal" text-anchor="start" textLength="16.4" lengthAdjust="spacingAndGlyphs" stroke="#131722" stroke-width="0.55" >200)</text>
<text x="253.2" y="59.2" font-size="9.6" fill="#f0c648" font-weight="normal" text-anchor="start" textLength="31.0" lengthAdjust="spacingAndGlyphs" stroke="#f0c648" stroke-width="0.51" >3.03339</text>
<text x="291.8" y="59.2" font-size="9.6" fill="#f0a24c" font-weight="normal" text-anchor="start" textLength="31.0" lengthAdjust="spacingAndGlyphs" stroke="#f0a24c" stroke-width="0.51" >3.30713</text>
<text x="330.6" y="59.2" font-size="9.6" fill="#ee8236" font-weight="normal" text-anchor="start" textLength="30.0" lengthAdjust="spacingAndGlyphs" stroke="#ee8236" stroke-width="0.54" >4.14759</text>
<text x="368.8" y="59.2" font-size="9.6" fill="#e5343b" font-weight="normal" text-anchor="start" textLength="32.0" lengthAdjust="spacingAndGlyphs" stroke="#e5343b" stroke-width="0.49" >6.96104</text>
<text x="20.8" y="289.3" font-size="9.6" fill="#131722" font-weight="normal" text-anchor="start" textLength="11.3" lengthAdjust="spacingAndGlyphs" stroke="#131722" stroke-width="0.74" >RSI</text>
<text x="37.5" y="289.3" font-size="9.6" fill="#131722" font-weight="normal" text-anchor="start" textLength="14.9" lengthAdjust="spacingAndGlyphs" stroke="#131722" stroke-width="0.5" >(14,</text>
<text x="56.7" y="289.3" font-size="9.6" fill="#131722" font-weight="normal" text-anchor="start" textLength="26.69" lengthAdjust="spacingAndGlyphs" stroke="#131722" stroke-width="0.39" >close)</text>
<text x="89.8" y="289.3" font-size="9.6" fill="#7e57c2" font-weight="normal" text-anchor="start" textLength="21.9" lengthAdjust="spacingAndGlyphs" stroke="#7e57c2" stroke-width="0.49" >46.92</text>
<text x="119.0" y="289.3" font-size="9.6" fill="#f5d560" font-weight="normal" text-anchor="start" textLength="22.0" lengthAdjust="spacingAndGlyphs" stroke="#f5d560" stroke-width="0.49" >42.53</text>
<text x="21.3" y="341.3" font-size="9.6" fill="#131722" font-weight="normal" text-anchor="start" textLength="22.9" lengthAdjust="spacingAndGlyphs" stroke="#131722" stroke-width="0.6" >MACD</text>
<text x="50.2" y="341.3" font-size="9.6" fill="#131722" font-weight="normal" text-anchor="start" textLength="28.2" lengthAdjust="spacingAndGlyphs" stroke="#131722" stroke-width="0.42" >(close,</text>
<text x="83.1" y="341.3" font-size="9.6" fill="#131722" font-weight="normal" text-anchor="start" textLength="9.9" lengthAdjust="spacingAndGlyphs" stroke="#131722" stroke-width="0.69" >12,</text>
<text x="97.2" y="341.3" font-size="9.6" fill="#131722" font-weight="normal" text-anchor="start" textLength="11.0" lengthAdjust="spacingAndGlyphs" stroke="#131722" stroke-width="0.58" >26,</text>
<text x="114.2" y="341.3" font-size="9.6" fill="#131722" font-weight="normal" text-anchor="start" textLength="7.7" lengthAdjust="spacingAndGlyphs" stroke="#131722" stroke-width="0.5" >9)</text>
<text x="128.5" y="341.3" font-size="9.6" fill="#26a69a" font-weight="normal" text-anchor="start" textLength="31.6" lengthAdjust="spacingAndGlyphs" stroke="#26a69a" stroke-width="0.5" >0.03776</text>
<text x="168.0" y="341.3" font-size="9.6" fill="#3b6fe0" font-weight="normal" text-anchor="start" textLength="36.3" lengthAdjust="spacingAndGlyphs" stroke="#3b6fe0" stroke-width="0.51" >−0.09722</text>
<text x="211.8" y="341.3" font-size="9.6" fill="#f27d2a" font-weight="normal" text-anchor="start" textLength="36.2" lengthAdjust="spacingAndGlyphs" stroke="#f27d2a" stroke-width="0.51" >−0.13498</text>
<rect x="573.6" y="33.3" width="44.2" height="20" rx="3" ry="3" fill="#ffffff" stroke="#f0f1f4" stroke-width="1"/>
<text x="581.0" y="46.6" font-size="10.2" fill="#131722" font-weight="normal" text-anchor="start" textLength="17.2" lengthAdjust="spacingAndGlyphs" stroke="#131722" stroke-width="0.6" >USD</text>
<text x="578.4" y="64.7" font-size="9.6" fill="#0c0e15" font-weight="normal" text-anchor="start" textLength="36.6" lengthAdjust="spacingAndGlyphs" stroke="#0c0e15" stroke-width="0.45" >10.00000</text>
<text x="578.4" y="96.3" font-size="9.6" fill="#0c0e15" font-weight="normal" text-anchor="start" textLength="31.6" lengthAdjust="spacingAndGlyphs" stroke="#0c0e15" stroke-width="0.45" >8.00000</text>
<text x="578.4" y="138.2" font-size="9.6" fill="#0c0e15" font-weight="normal" text-anchor="start" textLength="31.6" lengthAdjust="spacingAndGlyphs" stroke="#0c0e15" stroke-width="0.45" >6.00000</text>
<text x="578.4" y="164.9" font-size="9.6" fill="#0c0e15" font-weight="normal" text-anchor="start" textLength="31.6" lengthAdjust="spacingAndGlyphs" stroke="#0c0e15" stroke-width="0.45" >5.00000</text>
<text x="578.4" y="196.8" font-size="9.6" fill="#0c0e15" font-weight="normal" text-anchor="start" textLength="31.6" lengthAdjust="spacingAndGlyphs" stroke="#0c0e15" stroke-width="0.45" >4.00000</text>
<clipPath id="cpm"><rect x="570" y="380" width="52" height="12.6"/></clipPath>
<g clip-path="url(#cpm)"><text x="578.4" y="394.3" font-size="9.6" fill="#131722" font-weight="normal" text-anchor="start" textLength="36.6" lengthAdjust="spacingAndGlyphs" stroke="#131722" stroke-width="0.42" >−0.50000</text></g>
<rect x="570.8" y="106" width="42.9" height="14.4" rx="1.6" ry="1.6" fill="#ea1418"/>
<text x="577.5" y="116.4" font-size="9.6" fill="#ffffff" font-weight="normal" text-anchor="start" textLength="32.8" lengthAdjust="spacingAndGlyphs" stroke="#ffffff" stroke-width="0.3" >6.96104</text>
<rect x="570.8" y="181" width="42.9" height="14.2" rx="1.6" ry="1.6" fill="#f36a17"/>
<text x="577.5" y="191.29999999999998" font-size="9.6" fill="#ffffff" font-weight="normal" text-anchor="start" textLength="32.8" lengthAdjust="spacingAndGlyphs" stroke="#ffffff" stroke-width="0.3" >4.14759</text>
<rect x="570.8" y="211.5" width="42.9" height="14.2" rx="1.6" ry="1.6" fill="#f5a020"/>
<text x="577.5" y="221.79999999999998" font-size="9.6" fill="#131722" font-weight="normal" text-anchor="start" textLength="32.8" lengthAdjust="spacingAndGlyphs" stroke="#131722" stroke-width="0.42" >3.30713</text>
<rect x="570.8" y="250.4" width="42.9" height="13.8" rx="1.6" ry="1.6" fill="#f5bc22"/>
<text x="577.5" y="260.5" font-size="9.6" fill="#131722" font-weight="normal" text-anchor="start" textLength="32.8" lengthAdjust="spacingAndGlyphs" stroke="#131722" stroke-width="0.42" >3.03339</text>
<rect x="570.8" y="225.4" width="46.2" height="25.4" rx="2" ry="2" fill="#159a84"/>
<text x="577.5" y="235.4" font-size="9.6" fill="#ffffff" font-weight="normal" text-anchor="start" textLength="32.8" lengthAdjust="spacingAndGlyphs" stroke="#ffffff" stroke-width="0.42" >3.06230</text>
<text x="577.5" y="246.8" font-size="9.6" fill="#e6f6f2" font-weight="normal" text-anchor="start" textLength="32.8" lengthAdjust="spacingAndGlyphs" stroke="#e6f6f2" stroke-width="0.28" >14:17:39</text>
<rect x="533.1" y="225.4" width="37.6" height="14" rx="2" ry="2" fill="#159a84"/>
<text x="536.3" y="235.4" font-size="9.6" fill="#ffffff" font-weight="normal" text-anchor="start" textLength="29.7" lengthAdjust="spacingAndGlyphs" stroke="#ffffff" stroke-width="0.42" >INJUSD</text>
<rect x="570.8" y="292.3" width="33.2" height="14" rx="1.6" ry="1.6" fill="#7e57c2"/>
<text x="577.5" y="302.5" font-size="9.6" fill="#ffffff" font-weight="normal" text-anchor="start" textLength="22.5" lengthAdjust="spacingAndGlyphs" stroke="#ffffff" stroke-width="0.3" >46.92</text>
<rect x="570.8" y="306.2" width="33.2" height="13.7" rx="1.6" ry="1.6" fill="#f7d23c"/>
<text x="577.5" y="316.25" font-size="9.6" fill="#131722" font-weight="normal" text-anchor="start" textLength="22.5" lengthAdjust="spacingAndGlyphs" stroke="#131722" stroke-width="0.42" >42.53</text>
<rect x="570.8" y="336.5" width="42.9" height="14.1" rx="1.6" ry="1.6" fill="#26a69a"/>
<text x="577.5" y="346.75" font-size="9.6" fill="#ffffff" font-weight="normal" text-anchor="start" textLength="32.8" lengthAdjust="spacingAndGlyphs" stroke="#ffffff" stroke-width="0.3" >0.03776</text>
<rect x="570.8" y="350.5" width="48.1" height="14" rx="1.6" ry="1.6" fill="#2962ff"/>
<text x="577.5" y="360.7" font-size="9.6" fill="#ffffff" font-weight="normal" text-anchor="start" textLength="37.5" lengthAdjust="spacingAndGlyphs" stroke="#ffffff" stroke-width="0.3" >−0.09722</text>
<rect x="570.8" y="364.4" width="48.1" height="13.6" rx="1.6" ry="1.6" fill="#f96a0e"/>
<text x="577.5" y="374.4" font-size="9.6" fill="#ffffff" font-weight="normal" text-anchor="start" textLength="37.5" lengthAdjust="spacingAndGlyphs" stroke="#ffffff" stroke-width="0.3" >−0.13498</text>
<circle cx="517.3" cy="262.4" r="8" fill="#ffffff" stroke="#9530b4" stroke-width="1.2"/>
<polyline points="519.6,258.1 515.0,262.8 519.8,261.9 515.1,266.6" fill="none" stroke="#9530b4" stroke-width="1.15" stroke-linejoin="miter" stroke-linecap="round"/>
<clipPath id="cpf"><circle cx="536.3" cy="262.4" r="6.1"/></clipPath>
<circle cx="536.3" cy="262.4" r="8" fill="#ffffff" stroke="#dc444e" stroke-width="1.3"/>
<g clip-path="url(#cpf)">
<rect x="529" y="255" width="15" height="15" fill="#ffffff"/>
<rect x="529" y="255" width="15" height="3.70" fill="#e0525b"/>
<rect x="529" y="260.4" width="15" height="3.00" fill="#e0525b"/>
<rect x="529" y="265.7" width="15" height="2.50" fill="#e0525b"/>
<rect x="529" y="255" width="8.7" height="8.4" fill="#4673cf"/>
<circle cx="531.4" cy="257.6" r="0.45" fill="#dfe8fa"/>
<circle cx="533.4" cy="257.6" r="0.45" fill="#dfe8fa"/>
<circle cx="535.4" cy="257.6" r="0.45" fill="#dfe8fa"/>
<circle cx="531.4" cy="259.7" r="0.45" fill="#dfe8fa"/>
<circle cx="533.4" cy="259.7" r="0.45" fill="#dfe8fa"/>
<circle cx="535.4" cy="259.7" r="0.45" fill="#dfe8fa"/>
<circle cx="531.4" cy="261.8" r="0.45" fill="#dfe8fa"/>
<circle cx="533.4" cy="261.8" r="0.45" fill="#dfe8fa"/>
<circle cx="535.4" cy="261.8" r="0.45" fill="#dfe8fa"/>
</g>
<text x="53.4" y="408.1" font-size="9.8" fill="#131722" font-weight="bold" text-anchor="middle" textLength="21.8" lengthAdjust="spacingAndGlyphs" stroke="#131722" stroke-width="0.25" >2026</text>
<text x="250" y="407.8" font-size="9.6" fill="#131722" font-weight="normal" text-anchor="middle" textLength="17.2" lengthAdjust="spacingAndGlyphs" stroke="#131722" stroke-width="0.4" >Feb</text>
<text x="427.6" y="407.8" font-size="9.6" fill="#131722" font-weight="normal" text-anchor="middle" textLength="17.4" lengthAdjust="spacingAndGlyphs" stroke="#131722" stroke-width="0.4" >Mar</text>
<g fill="#131722">
<path d="M15.9 433.4 H25.1 V444.7 H20.3 V437.8 H15.9 Z"/>
<circle cx="29.5" cy="435.4" r="2.05"/>
<path d="M34 433.4 H39.7 L35.5 444.7 H29.7 Z"/>
</g>
<text x="45.4" y="444.7" font-size="15.8" fill="#131722" font-weight="bold" text-anchor="start" textLength="97.2" lengthAdjust="spacingAndGlyphs" >TradingView</text>
</svg></body></html>
